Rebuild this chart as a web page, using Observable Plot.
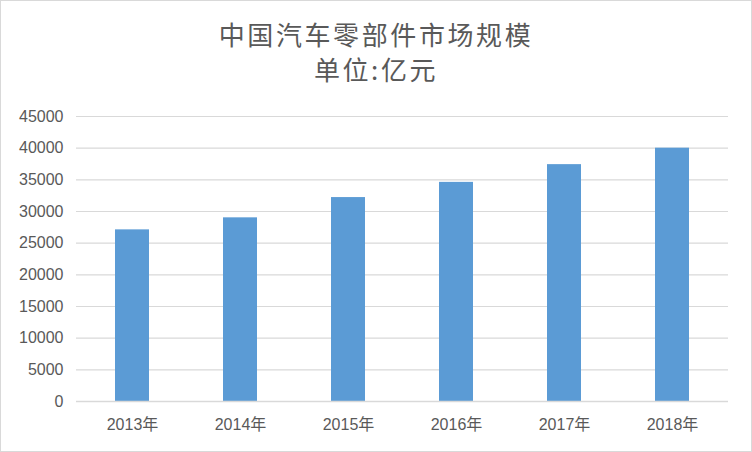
<!DOCTYPE html>
<html>
<head>
<meta charset="utf-8">
<script src="https://cdn.jsdelivr.net/npm/d3@7"></script>
<script src="https://cdn.jsdelivr.net/npm/@observablehq/plot@0.6"></script>
<style>
  body { margin: 0; background: #fff; }
  #wrap { position: relative; width: 752px; height: 452px; overflow: hidden; background: #fff; }
  #frame { position: absolute; left: 0; top: 0; width: 752px; height: 452px; box-sizing: border-box; border: 1px solid #d9d9d9; pointer-events: none; }
  #title { position: absolute; left: 0; top: 16px; width: 752px; text-align: center; color: #595959;
    font-family: "Noto Sans CJK SC", sans-serif; font-size: 26px; line-height: 35px; letter-spacing: 2.6px; }
  #chart { position: absolute; left: 0; top: 100px; }
</style>
</head>
<body>
<div id="wrap">
  <div id="title">中国汽车零部件市场规模<br>单位:亿元</div>
  <div id="chart"></div>
  <div id="frame"></div>
</div>
<script>
const years = ["2013年", "2014年", "2015年", "2016年", "2017年", "2018年"];
const values = [27100, 29000, 32200, 34600, 37400, 40000];
const yTicks = [0, 5000, 10000, 15000, 20000, 25000, 30000, 35000, 40000, 45000];

const data = years.map((y, i) => ({year: y, value: values[i]}));

const chart = Plot.plot({
  width: 752,
  height: 352,
  marginLeft: 76,
  marginRight: 24,
  marginTop: 16,
  marginBottom: 51,
  style: { fontFamily: "'Liberation Sans', 'Noto Sans CJK SC', sans-serif", fontSize: "16px", color: "#595959", background: "transparent" },
  x: { domain: years, paddingInner: 0.687, paddingOuter: 0.3435, label: null },
  y: { domain: [0, 45000], ticks: yTicks, label: null },
  marks: [
    Plot.gridY(yTicks, { stroke: "#d9d9d9", strokeOpacity: 1, strokeWidth: 1.2 }),
    Plot.barY(data, { x: "year", y: "value", fill: "#5b9bd5" }),
    Plot.ruleY([0], { stroke: "#d9d9d9", strokeWidth: 1.5 }),
    Plot.axisY(yTicks, { tickSize: 0, tickPadding: 13, label: null, tickFormat: d => String(d), fill: "#595959" }),
    Plot.axisX({ tickSize: 0, tickPadding: 17, label: null, fill: "#595959" })
  ]
});
document.getElementById("chart").appendChild(chart);
</script>
</body>
</html>
